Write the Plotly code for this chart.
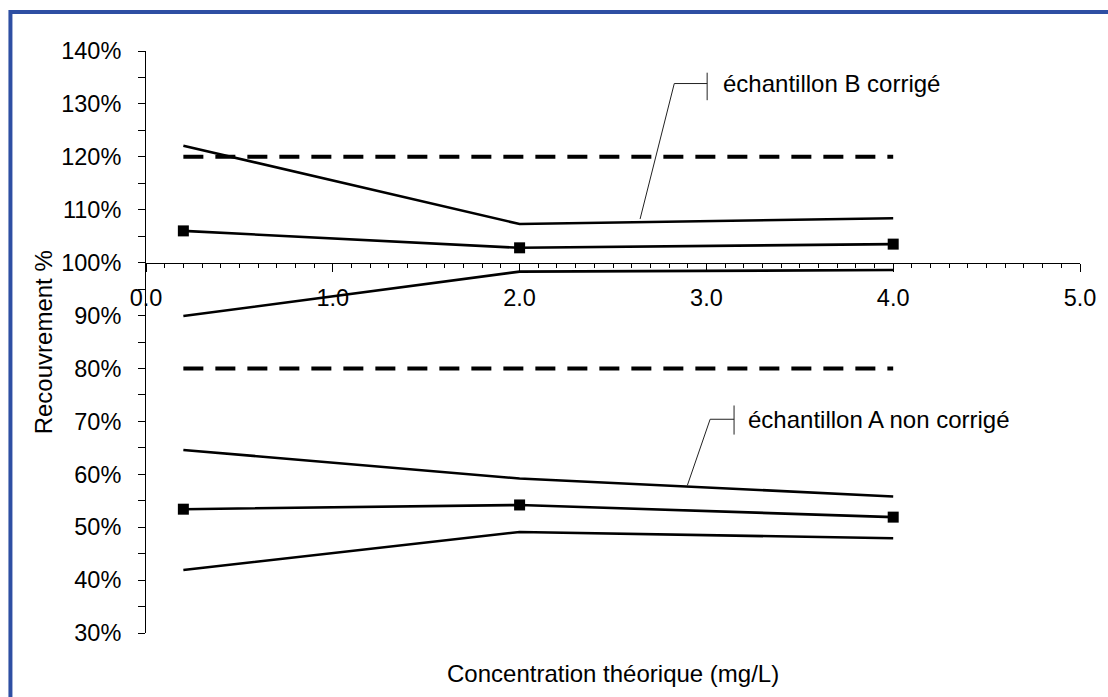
import plotly.graph_objects as go

# ---- data ----
conc = [0.2, 2.0, 4.0]
b_mean = [106.0, 102.8, 103.5]
b_upper = [122.1, 107.3, 108.4]
b_lower = [89.9, 98.3, 98.6]
a_mean = [53.4, 54.2, 51.9]
a_upper = [64.6, 59.2, 55.8]
a_lower = [41.9, 49.1, 47.9]
limit_hi = [120, 120, 120]
limit_lo = [80, 80, 80]

x_ticks = [0, 1, 2, 3, 4, 5]
y_ticks = [30, 40, 50, 60, 70, 80, 90, 100, 110, 120, 130, 140]

FONT = "Liberation Sans, Arial, sans-serif"
W, H = 1108, 697
L, R, T, B = 146, 25, 51, 64
pw, ph = W - L - R, H - T - B

def px(xp):
    return (xp - L) / pw

def py(yp):
    return (H - B - yp) / ph

fig = go.Figure()

line_solid = dict(color="black", width=2.6)
for yv in (b_upper, b_lower, a_upper, a_lower):
    fig.add_trace(go.Scatter(x=conc, y=yv, mode="lines", line=line_solid, showlegend=False))
for yv in (b_mean, a_mean):
    fig.add_trace(go.Scatter(x=conc, y=yv, mode="lines+markers", line=line_solid,
                             marker=dict(symbol="square", size=11, color="black"), showlegend=False))
for yv in (limit_hi, limit_lo):
    fig.add_trace(go.Scatter(x=conc, y=yv, mode="lines",
                             line=dict(color="black", width=4, dash="20px,12px"), showlegend=False))

# callouts (annotation leader lines)
lead = dict(color="#222222", width=1)
shapes = [
    dict(type="path", xref="x", yref="y", path="M 2.645 108.25 L 2.828 133.85 L 3.004 133.85", line=lead),
    dict(type="line", xref="x", yref="y", x0=3.004, x1=3.004, y0=130.7, y1=135.9, line=lead),
    dict(type="path", xref="x", yref="y", path="M 2.898 57.9 L 3.02 70.4 L 3.148 70.4", line=lead),
    dict(type="line", xref="x", yref="y", x0=3.148, x1=3.148, y0=67.5, y1=73.0, line=lead),
    # blue frame (top and left edges visible)
    dict(type="rect", xref="paper", yref="paper", x0=px(10), x1=px(1200), y0=py(800), y1=py(12),
         line=dict(color="#2E4FA3", width=4), fillcolor="rgba(0,0,0,0)", layer="above"),
]

annotations = [
    dict(x=3.08, y=133.85, xref="x", yref="y", text="échantillon B corrigé", showarrow=False,
         xanchor="left", yanchor="middle", font=dict(size=24, color="black", family=FONT)),
    dict(x=3.212, y=70.4, xref="x", yref="y", text="échantillon A non corrigé", showarrow=False,
         xanchor="left", yanchor="middle", font=dict(size=24, color="black", family=FONT)),
    dict(x=px(43), y=0.5, xref="paper", yref="paper", text="Recouvrement %", textangle=-90,
         showarrow=False, xanchor="center", yanchor="middle", font=dict(size=24, color="black", family=FONT)),
    dict(x=0.5, y=py(673), xref="paper", yref="paper", text="Concentration théorique (mg/L)",
         showarrow=False, xanchor="center", yanchor="middle", font=dict(size=24, color="black", family=FONT)),
]

fig.update_layout(
    width=W, height=H,
    margin=dict(l=L, r=R, t=T, b=B, pad=0),
    paper_bgcolor="white", plot_bgcolor="white",
    font=dict(family=FONT, size=20, color="black"),
    shapes=shapes, annotations=annotations,
    xaxis=dict(range=[0, 5], tickvals=x_ticks, ticktext=[f"{v:.1f}" for v in x_ticks],
               showgrid=False, zeroline=False, showline=True, linecolor="black", linewidth=1,
               ticks="outside", ticklen=8, tickcolor="black", tickwidth=1,
               minor=dict(dtick=0.1, ticks="outside", ticklen=4, tickcolor="black", tickwidth=1),
               anchor="free", position=(100 - 30) / (140 - 30), ticklabelstandoff=6,
               tickfont=dict(size=23.5, family=FONT)),
    yaxis=dict(range=[30, 140], tickvals=y_ticks, ticktext=[f"{v}%" for v in y_ticks],
               showgrid=False, zeroline=False, showline=True, linecolor="black", linewidth=1,
               ticks="outside", ticklen=7, tickcolor="black", tickwidth=1,
               minor=dict(dtick=5, ticks="outside", ticklen=7, tickcolor="black", tickwidth=1),
               ticklabelstandoff=12, tickfont=dict(size=23.5, family=FONT)),
)

fig.write_html("out.html", config={"displayModeBar": False},
               post_script="document.body.style.margin='0';")
